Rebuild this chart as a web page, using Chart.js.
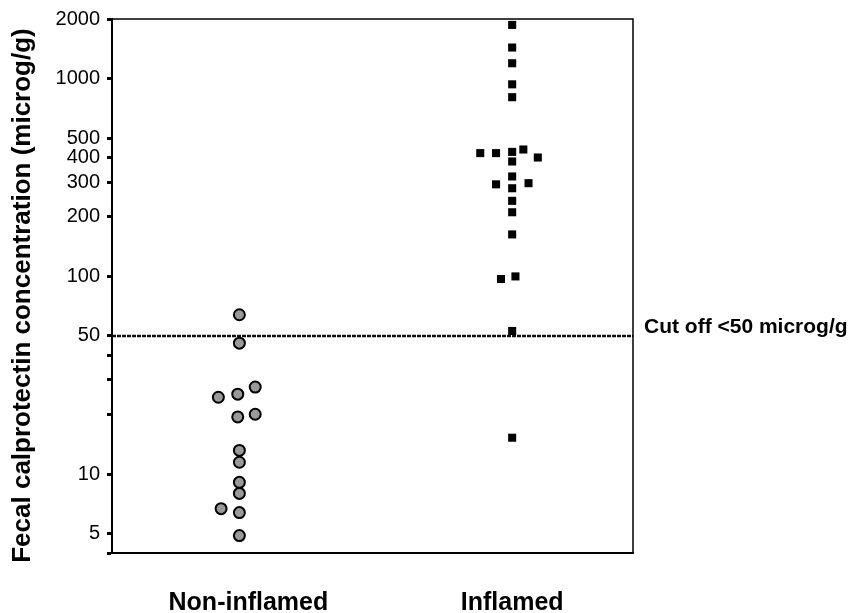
<!DOCTYPE html>
<html>
<head>
<meta charset="utf-8">
<script src="https://cdn.jsdelivr.net/npm/chart.js@4.4.1/dist/chart.umd.min.js"></script>
<style>
  body { margin: 0; background: #fff; }
</style>
</head>
<body>
<canvas id="chart" width="852" height="613"></canvas>
<script>
// categories and values
const categories = ["Non-inflamed", "Inflamed"];

const nonInflamedX = [1, 1, 1.058, 0.923, 0.994, 0.994, 1.058, 1, 1, 1, 1, 0.933, 1, 1];
const nonInflamedY = [64, 46, 27.6, 24.5, 25.4, 19.5, 20.1, 13.2, 11.5, 9.1, 8.0, 6.7, 6.4, 4.9];

const inflamedX = [2, 2, 2, 2, 2, 1.883, 1.941, 2, 2.041, 2.094, 2, 2, 1.941, 2, 2.06, 2, 2, 2, 1.959, 2.012, 2, 2];
const inflamedY = [1867, 1435, 1195, 935, 805, 420, 420, 426, 438, 399, 381, 320, 292, 279, 296, 241, 211, 163, 97, 100, 53, 15.3];

const cutOff = 50;
const cutOffLabel = "Cut off <50 microg/g";

const yTicks = [4, 5, 10, 20, 30, 40, 50, 100, 200, 300, 400, 500, 1000, 2000];
const yTickLabels = [5, 10, 50, 100, 200, 300, 400, 500, 1000, 2000];
const yTitle = "Fecal calprotectin concentration (microg/g)";

const xMin = 0.533, xMax = 2.443;
const labelAt = [1.033, 2];
const FONT = "'Liberation Sans', Arial, sans-serif";

function toPoints(xs, ys) {
  return xs.map((x, i) => ({ x: x, y: ys[i] }));
}

// frame, y title and cut-off label
const extras = {
  id: "extras",
  afterDraw(chart) {
    const ctx = chart.ctx;
    const a = chart.chartArea;
    ctx.save();
    ctx.strokeStyle = "#000";
    ctx.lineWidth = 1.5;
    ctx.beginPath();
    ctx.moveTo(a.left, a.top);
    ctx.lineTo(a.right, a.top);
    ctx.lineTo(a.right, a.bottom);
    ctx.stroke();

    ctx.fillStyle = "#000";
    ctx.font = "bold 21px " + FONT;
    ctx.textAlign = "left";
    ctx.textBaseline = "alphabetic";
    ctx.fillText(cutOffLabel, a.right + 11, chart.scales.y.getPixelForValue(cutOff) - 3);

    ctx.translate(22.5, 295.5);
    ctx.rotate(-Math.PI / 2);
    ctx.font = "bold 26px " + FONT;
    ctx.textAlign = "center";
    ctx.textBaseline = "middle";
    ctx.fillText(yTitle, 0, 0);
    ctx.restore();
  }
};

new Chart(document.getElementById("chart").getContext("2d"), {
  type: "scatter",
  data: {
    datasets: [
      {
        label: categories[0],
        data: toPoints(nonInflamedX, nonInflamedY),
        pointStyle: "circle",
        pointRadius: 5.5,
        backgroundColor: "#999999",
        borderColor: "#000",
        borderWidth: 2,
        order: 1
      },
      {
        label: categories[1],
        data: toPoints(inflamedX, inflamedY),
        pointStyle: "rect",
        pointRadius: 5.7,
        backgroundColor: "#000",
        borderColor: "#000",
        borderWidth: 0,
        order: 2
      },
      {
        type: "line",
        label: "cut off",
        data: [{ x: xMin, y: cutOff }, { x: xMax, y: cutOff }],
        borderColor: "#111",
        borderWidth: 2.5,
        borderDash: [4, 1],
        pointRadius: 0,
        order: 3
      }
    ]
  },
  options: {
    responsive: false,
    animation: false,
    layout: { padding: { left: 0, right: 219, top: 19, bottom: 0 } },
    plugins: {
      legend: { display: false },
      tooltip: { enabled: false }
    },
    scales: {
      x: {
        type: "linear",
        min: xMin,
        max: xMax,
        afterBuildTicks: (scale) => { scale.ticks = labelAt.map(v => ({ value: v })); },
        afterFit: (scale) => { scale.height = 60; },
        grid: { display: false, drawTicks: false },
        border: { display: true, color: "#000", width: 2 },
        ticks: {
          padding: 35,
          color: "#000",
          font: { family: FONT, size: 25, weight: "bold" },
          callback: (v, i) => categories[i]
        }
      },
      y: {
        type: "logarithmic",
        min: 4,
        max: 2000,
        afterBuildTicks: (scale) => { scale.ticks = yTicks.map(v => ({ value: v })); },
        afterFit: (scale) => { scale.width = 112; },
        grid: {
          drawOnChartArea: false,
          drawTicks: true,
          tickLength: 5,
          tickWidth: 3,
          tickColor: "#000"
        },
        border: { display: true, color: "#000", width: 2 },
        ticks: {
          padding: 7,
          color: "#000",
          font: { family: FONT, size: 20 },
          callback: (v) => yTickLabels.includes(v) ? String(v) : ""
        }
      }
    }
  },
  plugins: [extras]
});
</script>
</body>
</html>
